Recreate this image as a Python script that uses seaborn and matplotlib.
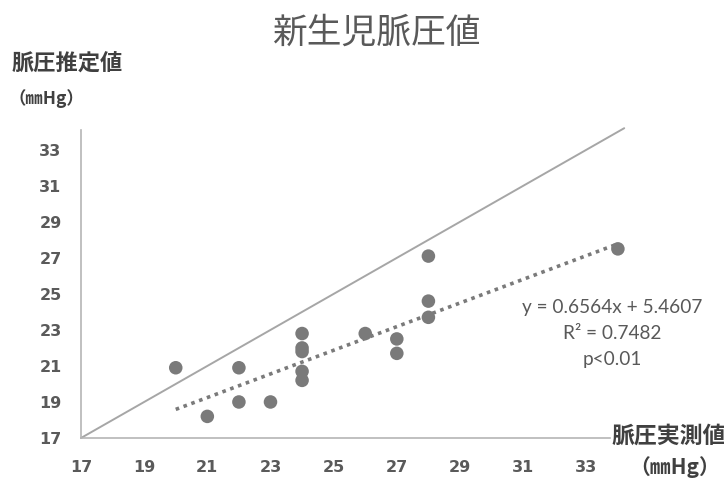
import matplotlib
matplotlib.use("Agg")
import matplotlib.pyplot as plt
import seaborn as sns
import numpy as np
import pandas as pd

# ---- data ----
measured = [20, 21, 22, 22, 23, 24, 24, 24, 24, 24, 26, 27, 27, 28, 28, 28, 34]
estimated = [20.9, 18.2, 20.9, 19.0, 19.0, 22.8, 22.0, 21.8, 20.7, 20.2, 22.8, 22.5, 21.7, 27.1, 24.6, 23.7, 27.5]
slope = 0.6564
intercept = 5.4607
trend_x = [20, 34]
identity_xy = [17, 34.2]
ticks = [17, 19, 21, 23, 25, 27, 29, 31, 33]

title = "新生児脈圧値"
ylabel = "脈圧推定値"
xlabel = "脈圧実測値"
unit = "（㎜Hg）"
eq_lines = ["y = 0.6564x + 5.4607", "R² = 0.7482", "p<0.01"]

sns.set_style("white")
plt.rcParams['font.family'] = ['Noto Sans CJK JP', 'DejaVu Sans']

fig = plt.figure(figsize=(7.24, 4.78), dpi=100)
ax = fig.add_axes([81/724, 40/478, 529/724, 308/478])

df = pd.DataFrame({"x": measured, "y": estimated})
trend_df = pd.DataFrame({"x": trend_x, "y": [slope * v + intercept for v in trend_x]})
id_df = pd.DataFrame({"x": identity_xy, "y": identity_xy})

sns.lineplot(data=id_df, x="x", y="y", ax=ax, color="#a6a6a6", lw=1.4)
sns.lineplot(data=trend_df, x="x", y="y", ax=ax, color="#7a7a7a", lw=2.6,
             linestyle=(0, (1, 1.3)))
sns.scatterplot(data=df, x="x", y="y", ax=ax, color="#7a7a7a", s=95,
                edgecolor="none", zorder=5)
for l in ax.lines:
    l.set_clip_on(False)
    l.set_dash_capstyle("butt")
for c in ax.collections:
    c.set_clip_on(False)

ax.set_xlim(17, 33.75)
ax.set_ylim(17, 34.1)
ax.set_xticks(ticks)
ax.set_yticks(ticks)
ax.tick_params(length=0, labelsize=11.5, labelcolor="#5a5a5a")
ax.tick_params(axis="x", pad=16)
ax.tick_params(axis="y", pad=14)
for lab in ax.get_xticklabels() + ax.get_yticklabels():
    lab.set_fontweight("bold")
    lab.set_family(["DejaVu Sans"])
ax.set_xlabel("")
ax.set_ylabel("")
for s in ["top", "right"]:
    ax.spines[s].set_visible(False)
for s in ["left", "bottom"]:
    ax.spines[s].set_color("#b5b5b5")
    ax.spines[s].set_linewidth(1.2)

fig.text(376/724, 1 - 33/478, title, ha="center", va="center", fontsize=25,
         color="#595959")
fig.text(12/724, 1 - 63/478, ylabel, ha="left", va="center", fontsize=16,
         fontweight="bold", color="#404040")
fig.text(9/724, 1 - 99/478, unit, ha="left", va="center", fontsize=12.5,
         fontweight="bold", color="#404040")
fig.text(611/724, 1 - 436/478, xlabel, ha="left", va="center", fontsize=16.5,
         fontweight="bold", color="#404040")
fig.text(675/724, 1 - 467/478, unit, ha="center", va="center", fontsize=15,
         fontweight="bold", color="#404040")
for i, t in enumerate(eq_lines):
    fig.text(612/724, 1 - (307 + 26.5 * i)/478, t, ha="center", va="center",
             fontsize=13.7, color="#595959", family=["Lato", "DejaVu Sans"])

fig.savefig("out.png", dpi=100)
